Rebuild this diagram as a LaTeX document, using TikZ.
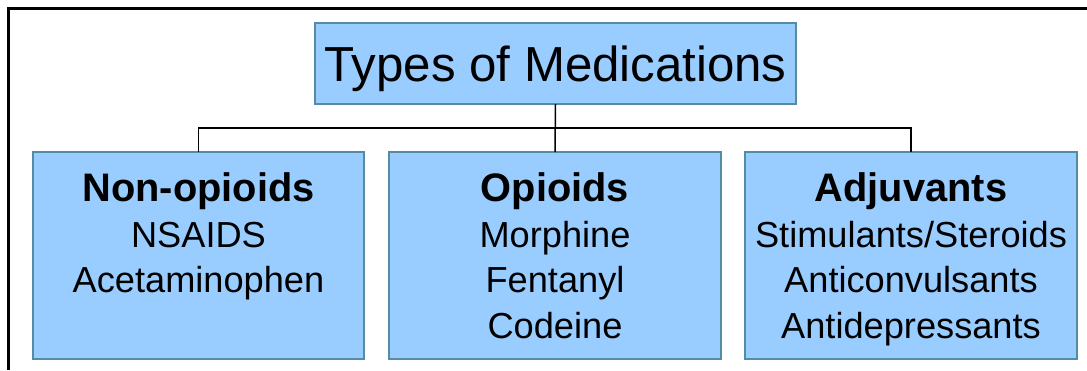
\documentclass[tikz,border=0pt]{standalone}
\usepackage{fontspec}
\setmainfont{Liberation Sans}
\definecolor{boxfill}{RGB}{153,204,255}
\definecolor{boxline}{RGB}{84,140,166}
\begin{document}
\begin{tikzpicture}[x=1pt,y=-1pt,
  medbox/.style={draw=boxline,fill=boxfill,line width=2pt,minimum width=#1,inner sep=0pt,outer sep=0pt},
  medbox/.default=332pt,
  conn/.style={draw=black,line width=1.5pt},
  frame/.style={draw=black,line width=2.2pt},
  head/.style={anchor=base,inner sep=0pt,font=\fontsize{39.8}{45}\selectfont\bfseries},
  item/.style={anchor=base,inner sep=0pt,font=\fontsize{36.2}{45}\selectfont},
  titletext/.style={anchor=base,inner sep=0pt,font=\fontsize{49.2}{55}\selectfont}]
\useasboundingbox (0,0) rectangle (1087,370);
\fill[white] (0,0) rectangle (1087,370);
% frame
\coordinate (fr1) at (1087,8.5);
\coordinate (fr2) at (8.5,8.5);
\coordinate (fr3) at (8.5,370);
\draw[frame] (fr1) -- (fr2) -- (fr3);
% boxes
\node[medbox=481pt,minimum height=81pt] (title) at (555.5,63.5) {};
\node[medbox=331pt,minimum height=207pt] (left) at (198.5,255.5) {};
\node[medbox=332pt,minimum height=207pt] (mid) at (555,255.5) {};
\node[medbox=332pt,minimum height=207pt] (right) at (911,255.5) {};
% connectors
\draw[conn] (title.south) -- (mid.north);
\draw[conn] (left.north) -- ++(0,-24) -| (right.north);
% texts
\node[titletext] (t0) at (555.5,81) {Types of Medications};
\node[head] (l0) at (198.5,201.7) {Non-opioids};
\node[item] (l1) at (198.5,247.2) {NSAIDS};
\node[item] (l2) at (198.5,292.7) {Acetaminophen};
\node[head] (m0) at (555,201.7) {Opioids};
\node[item] (m1) at (555,247.2) {Morphine};
\node[item] (m2) at (555,292.7) {Fentanyl};
\node[item] (m3) at (555,338.2) {Codeine};
\node[head] (r0) at (911,201.7) {Adjuvants};
\node[item] (r1) at (911,247.2) {Stimulants/Steroids};
\node[item] (r2) at (911,292.7) {Anticonvulsants};
\node[item] (r3) at (911,338.2) {Antidepressants};
\end{tikzpicture}
\end{document}
